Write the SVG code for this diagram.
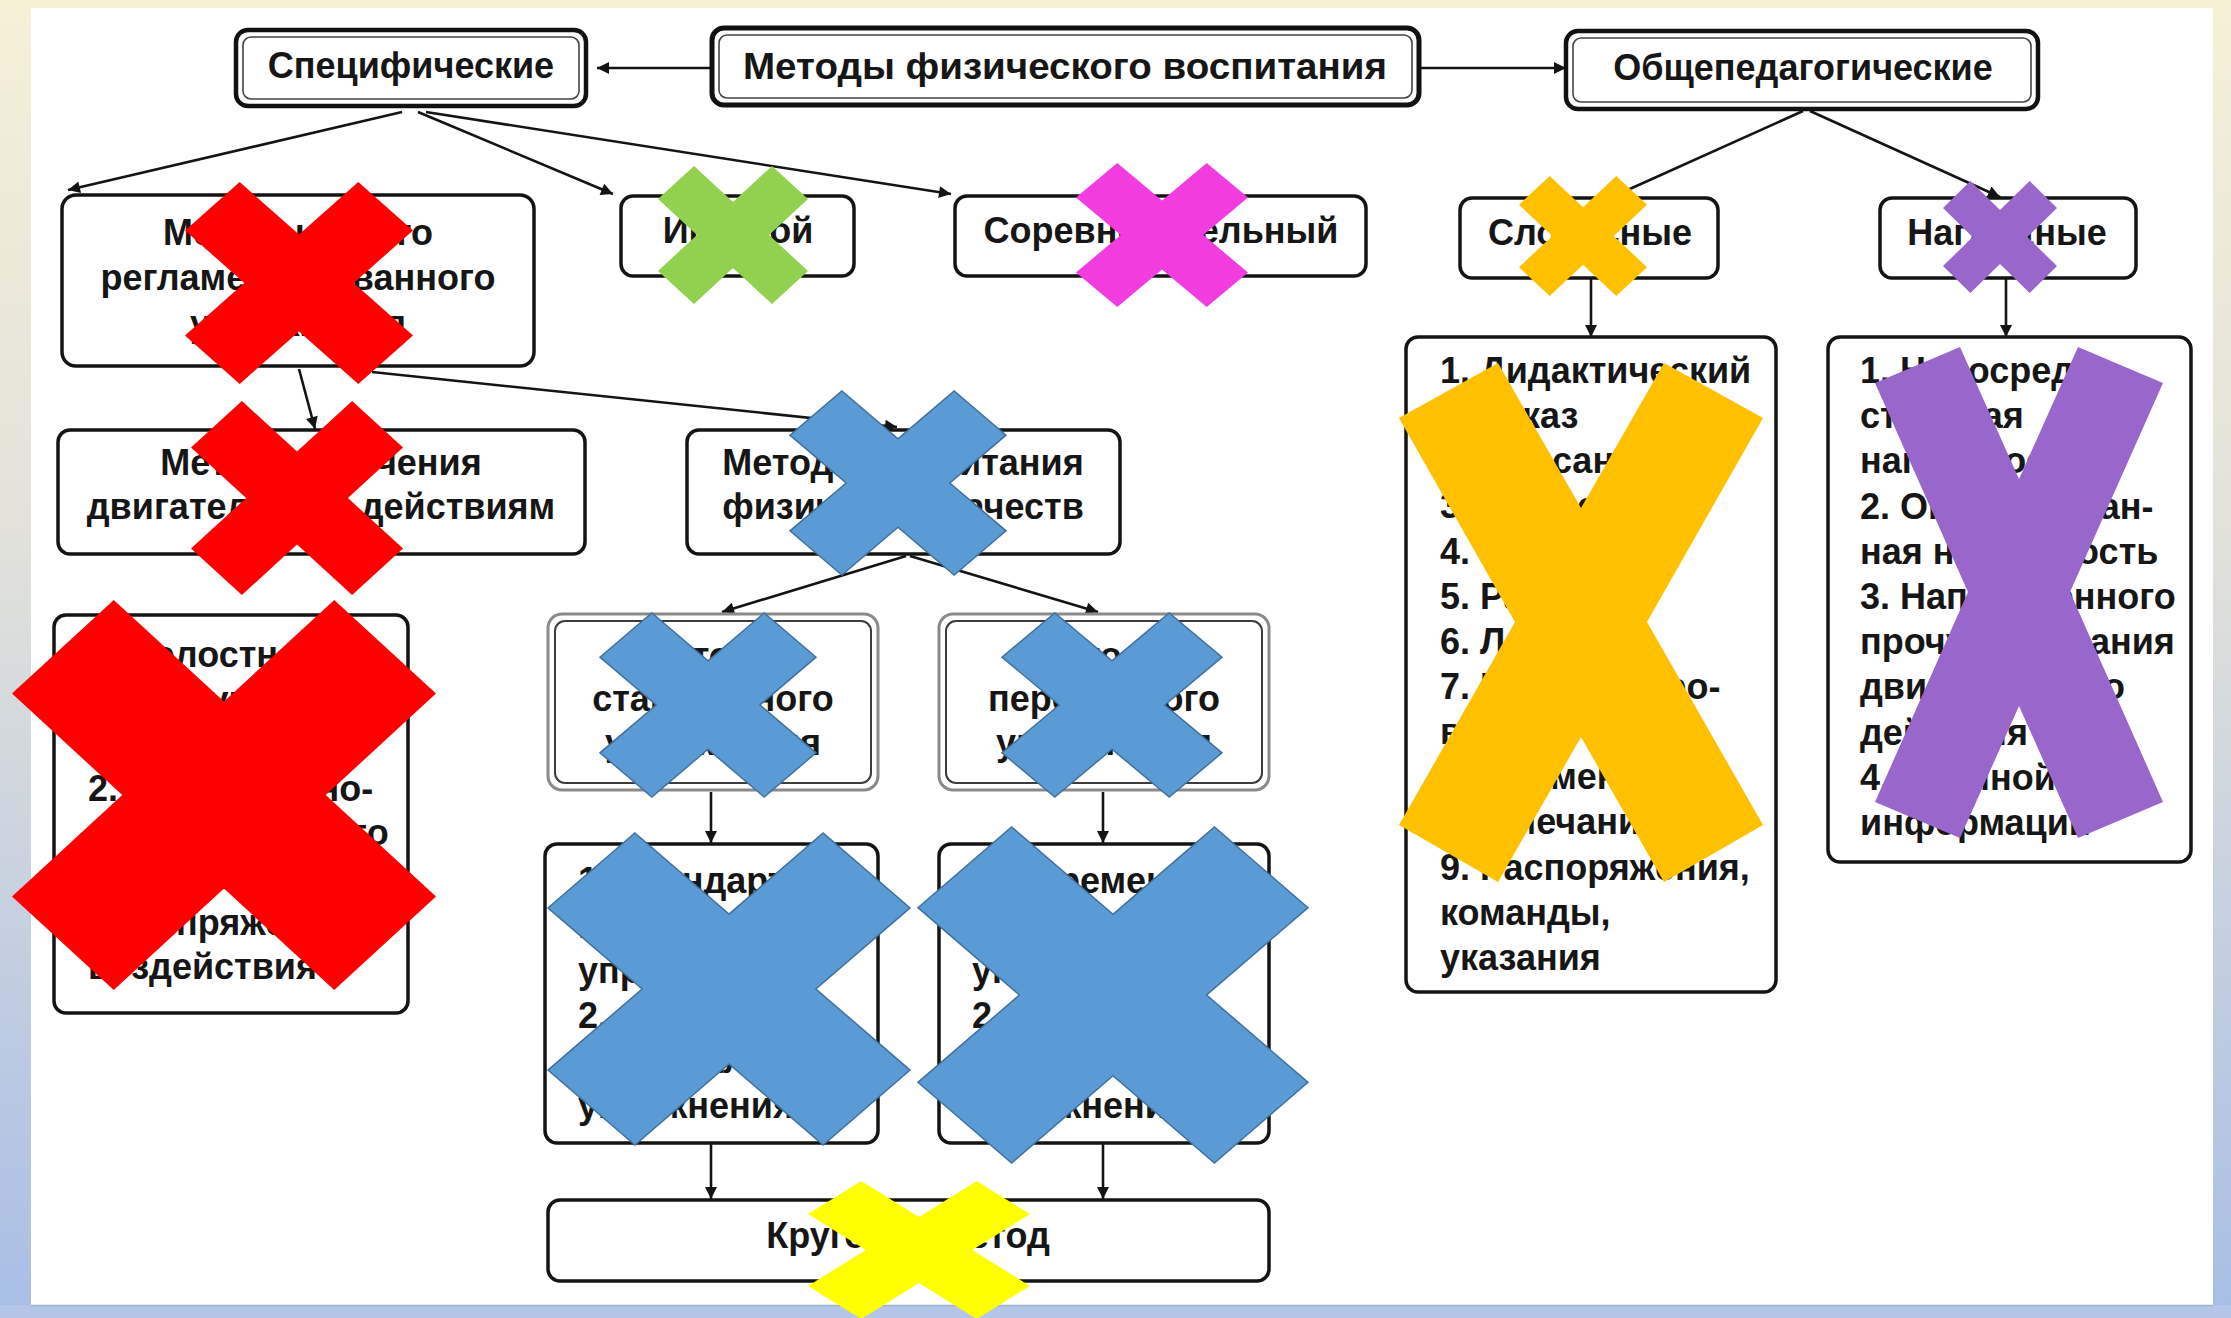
<svg xmlns="http://www.w3.org/2000/svg" xmlns:xlink="http://www.w3.org/1999/xlink" width="2231" height="1318" viewBox="0 0 2231 1318">
<style>
.t{font-family:"Liberation Sans",Arial,sans-serif;font-weight:bold;font-size:36px;fill:#161616}
.c{text-anchor:middle}
.box{fill:#fff;stroke:#141414;stroke-width:3.5}
.outer{fill:#fff;stroke:#111;stroke-width:5}
.inner{fill:none;stroke:#444;stroke-width:1.6}
.gouter{fill:#fff;stroke:#8a8a8a;stroke-width:3}
.ginner{fill:none;stroke:#3c3c3c;stroke-width:2}
.con{fill:none;stroke:#141414;stroke-width:2.6;marker-end:url(#ah)}
</style>
<defs>
<linearGradient id="bg" x1="0" y1="0" x2="0" y2="1">
<stop offset="0" stop-color="#F6F0D7"/>
<stop offset="0.4" stop-color="#E2E2DA"/>
<stop offset="1" stop-color="#A8BEE6"/>
</linearGradient>
<marker id="ah" viewBox="0 0 10 10" refX="10" refY="5" markerWidth="16" markerHeight="12" markerUnits="userSpaceOnUse" orient="auto">
<path d="M0,0 L10,5 L0,10 z" fill="#141414"/>
</marker>
<polygon id="mx" vector-effect="non-scaling-stroke" points="0,-48 52,-100 100,-52 48,0 100,52 52,100 0,48 -52,100 -100,52 -48,0 -100,-52 -52,-100"/>
</defs>

<rect x="0" y="0" width="2231" height="1318" fill="url(#bg)"/>
<rect x="0" y="1305" width="2231" height="13" fill="#B3C6E8"/>
<rect x="31" y="8" width="2182" height="1297" fill="#ffffff"/>
<line x1="31" y1="1305.5" x2="2213" y2="1305.5" stroke="#9FB0CC" stroke-width="1.5"/>

<g id="connectors">
<line class="con" x1="711" y1="68" x2="597" y2="68"/>
<line class="con" x1="1420" y1="68" x2="1566" y2="68"/>
<line class="con" x1="402" y1="112" x2="68" y2="190"/>
<line class="con" x1="418" y1="112" x2="613" y2="194"/>
<line class="con" x1="426" y1="112" x2="951" y2="194"/>
<line class="con" x1="1803" y1="111" x2="1612" y2="197"/>
<line class="con" x1="1810" y1="111" x2="2000" y2="197"/>
<line class="con" x1="1591" y1="279" x2="1591" y2="337"/>
<line class="con" x1="2006" y1="279" x2="2006" y2="337"/>
<line class="con" x1="299" y1="369" x2="315" y2="429"/>
<line class="con" x1="372" y1="372" x2="897" y2="427"/>
<line class="con" x1="906" y1="556" x2="722" y2="612"/>
<line class="con" x1="910" y1="556" x2="1098" y2="612"/>
<line class="con" x1="711" y1="792" x2="711" y2="843"/>
<line class="con" x1="1103" y1="792" x2="1103" y2="843"/>
<line class="con" x1="711" y1="1144" x2="711" y2="1199"/>
<line class="con" x1="1103" y1="1144" x2="1103" y2="1199"/>
</g>

<g id="n-main">
<rect class="outer" x="712" y="28" width="707" height="77" rx="12"/>
<rect class="inner" x="719" y="35" width="693" height="63" rx="8"/>
<text class="t c" x="1065" y="79" font-size="39" textLength="644" lengthAdjust="spacingAndGlyphs">Методы физического воспитания</text>
</g>
<g id="n-spec">
<rect class="outer" x="236" y="30" width="350" height="76" rx="12" style="stroke-width:4.5"/>
<rect class="inner" x="243" y="37" width="336" height="62" rx="8"/>
<text class="t c" x="411" y="78">Специфические</text>
</g>
<g id="n-obsh">
<rect class="outer" x="1566" y="31" width="472" height="78" rx="12" style="stroke-width:4.5"/>
<rect class="inner" x="1573" y="38" width="458" height="64" rx="8"/>
<text class="t c" x="1803" y="80">Общепедагогические</text>
</g>
<g id="n-strogo">
<rect class="box" x="62" y="195" width="472" height="171" rx="14"/>
<text class="t c" x="298"><tspan x="298" y="245">Методы строго</tspan><tspan x="298" y="290">регламентированного</tspan><tspan x="298" y="336">упражнения</tspan></text>
</g>
<g id="n-igr">
<rect class="box" x="621" y="196" width="233" height="80" rx="12"/>
<text class="t c" x="738" y="243">Игровой</text>
</g>
<g id="n-sorev">
<rect class="box" x="955" y="196" width="411" height="80" rx="12"/>
<text class="t c" x="1161" y="243">Соревновательный</text>
</g>
<g id="n-slov">
<rect class="box" x="1460" y="198" width="258" height="80" rx="12"/>
<text class="t c" x="1590" y="245">Словесные</text>
</g>
<g id="n-nagl">
<rect class="box" x="1880" y="198" width="256" height="80" rx="12"/>
<text class="t c" x="2007" y="245">Наглядные</text>
</g>
<g id="n-obuch">
<rect class="box" x="58" y="430" width="527" height="124" rx="12"/>
<text class="t c"><tspan x="321" y="475">Методы обучения</tspan><tspan x="321" y="519">двигательным действиям</tspan></text>
</g>
<g id="n-vosp">
<rect class="box" x="687" y="430" width="433" height="124" rx="12"/>
<text class="t c"><tspan x="903" y="475">Методы воспитания</tspan><tspan x="903" y="519">физических качеств</tspan></text>
</g>
<g id="n-stand">
<rect class="gouter" x="548" y="614" width="330" height="176" rx="14"/>
<rect class="ginner" x="555" y="621" width="316" height="162" rx="10"/>
<text class="t c"><tspan x="713" y="668">Методы</tspan><tspan x="713" y="711">стандартного</tspan><tspan x="713" y="755">упражнения</tspan></text>
</g>
<g id="n-perem">
<rect class="gouter" x="939" y="614" width="330" height="176" rx="14"/>
<rect class="ginner" x="946" y="621" width="316" height="162" rx="10"/>
<text class="t c"><tspan x="1104" y="668">Методы</tspan><tspan x="1104" y="711">переменного</tspan><tspan x="1104" y="755">упражнения</tspan></text>
</g>
<g id="n-obuch-list">
<rect class="box" x="54" y="615" width="354" height="398" rx="12"/>
<text class="t"><tspan x="88" y="667">1. Целостно-</tspan><tspan x="88" y="712">конструктивного</tspan><tspan x="88" y="756">упражнения</tspan><tspan x="88" y="801">2. Расчлененно-</tspan><tspan x="88" y="845">конструктивного</tspan><tspan x="88" y="890">упражнения</tspan><tspan x="88" y="935">3. Сопряженного</tspan><tspan x="88" y="979">воздействия</tspan></text>
</g>
<g id="n-stand-list">
<rect class="box" x="545" y="844" width="333" height="299" rx="12"/>
<text class="t"><tspan x="578" y="893">1. Стандартно-</tspan><tspan x="578" y="938">непрерывного</tspan><tspan x="578" y="983">упражнения</tspan><tspan x="578" y="1028">2. Стандартно-</tspan><tspan x="578" y="1073">интервального</tspan><tspan x="578" y="1118">упражнения</tspan></text>
</g>
<g id="n-perem-list">
<rect class="box" x="939" y="844" width="330" height="299" rx="12"/>
<text class="t"><tspan x="972" y="893">1. Переменно-</tspan><tspan x="972" y="938">непрерывного</tspan><tspan x="972" y="983">упражнения</tspan><tspan x="972" y="1028">2. Переменно-</tspan><tspan x="972" y="1073">интервального</tspan><tspan x="972" y="1118">упражнения</tspan></text>
</g>
<g id="n-krug">
<rect class="box" x="548" y="1200" width="721" height="81" rx="12"/>
<text class="t c" x="908" y="1248">Круговой метод</text>
</g>
<g id="n-slov-list">
<rect class="box" x="1406" y="337" width="370" height="655" rx="12"/>
<text class="t"><tspan x="1440" y="383">1. Дидактический</tspan><tspan x="1440" y="428">рассказ</tspan><tspan x="1440" y="473">2. Описание</tspan><tspan x="1440" y="518">3. Объяснение</tspan><tspan x="1440" y="564">4. Беседа</tspan><tspan x="1440" y="609">5. Разбор</tspan><tspan x="1440" y="654">6. Лекция</tspan><tspan x="1440" y="699">7. Инструктиро-</tspan><tspan x="1440" y="744">вание</tspan><tspan x="1440" y="789">8. Комментарии</tspan><tspan x="1440" y="834">и замечания</tspan><tspan x="1440" y="880">9. Распоряжения,</tspan><tspan x="1440" y="925">команды,</tspan><tspan x="1440" y="970">указания</tspan></text>
</g>
<g id="n-nagl-list">
<rect class="box" x="1828" y="337" width="363" height="525" rx="12"/>
<text class="t"><tspan x="1860" y="383">1. Непосред-</tspan><tspan x="1860" y="428">ственная</tspan><tspan x="1860" y="473">наглядность</tspan><tspan x="1860" y="519">2. Опосредован-</tspan><tspan x="1860" y="564">ная наглядность</tspan><tspan x="1860" y="609">3. Направленного</tspan><tspan x="1860" y="654">прочувствования</tspan><tspan x="1860" y="699">двигательного</tspan><tspan x="1860" y="745">действия</tspan><tspan x="1860" y="790">4. Срочной</tspan><tspan x="1860" y="835">информации</tspan></text>
</g>

<g id="crosses">
<use xlink:href="#mx" href="#mx" fill="#FF0000" transform="translate(299,283) scale(1.14,1.01)"/>
<use xlink:href="#mx" href="#mx" fill="#FF0000" transform="translate(297,498) scale(1.06,0.97)"/>
<use xlink:href="#mx" href="#mx" fill="#FF0000" transform="translate(224,795) scale(2.12,1.95)"/>
<use xlink:href="#mx" href="#mx" fill="#92D050" transform="translate(733,235) scale(0.75,0.69)"/>
<use xlink:href="#mx" href="#mx" fill="#F23CE0" transform="translate(1162,235) scale(0.86,0.72)"/>
<use xlink:href="#mx" href="#mx" fill="#FFC000" transform="translate(1583,236) scale(0.64,0.60)"/>
<use xlink:href="#mx" href="#mx" fill="#9966CC" transform="translate(2000,237) scale(0.57,0.56)"/>
<use xlink:href="#mx" href="#mx" fill="#5B9BD5" stroke="#41719C" stroke-width="1.5" transform="translate(898,483) scale(1.08,0.92)"/>
<use xlink:href="#mx" href="#mx" fill="#5B9BD5" stroke="#41719C" stroke-width="1.5" transform="translate(708,705) scale(1.08,0.92)"/>
<use xlink:href="#mx" href="#mx" fill="#5B9BD5" stroke="#41719C" stroke-width="1.5" transform="translate(1112,705) scale(1.10,0.92)"/>
<use xlink:href="#mx" href="#mx" fill="#5B9BD5" stroke="#41719C" stroke-width="1.5" transform="translate(729,989) scale(1.81,1.56)"/>
<use xlink:href="#mx" href="#mx" fill="#5B9BD5" stroke="#41719C" stroke-width="1.5" transform="translate(1113,995) scale(1.95,1.68)"/>
<use xlink:href="#mx" href="#mx" fill="#FFFF00" transform="translate(919,1250) scale(1.11,0.69)"/>
<polygon fill="#FFC000" points="1399,418 1498,363 1581,508 1664,363 1763,418 1647,622 1763,825 1664,882 1581,737 1498,882 1399,825 1515,622"/>
<polygon fill="#9966CC" points="1875,383 1960,347 2019,479 2078,347 2163,383 2070,592 2163,802 2078,838 2019,706 1960,838 1875,802 1968,592"/>
</g>
</svg>
